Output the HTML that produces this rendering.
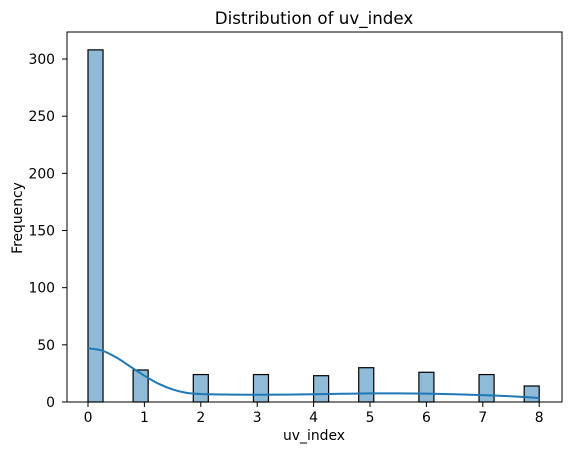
<!DOCTYPE html>
<html><head><meta charset="utf-8"><style>
body{margin:0;background:#fff;}
svg text{font-family:"DejaVu Sans","Liberation Sans",sans-serif;fill:#000;}
</style></head><body>
<svg id="chart" width="571" height="455">
<rect x="0" y="0" width="571" height="455" fill="#fff"/>
<g id="bars"></g>
<path id="kde" fill="none" stroke="#1f77b4" stroke-width="2" stroke-linejoin="round"/>
<rect x="67" y="32" width="495" height="370" fill="none" stroke="#000" stroke-width="1"/>
<g id="xticks"></g><g id="yticks"></g>
<text x="314" y="24" font-size="16.7" text-anchor="middle">Distribution of uv_index</text>
<text x="314" y="440" font-size="13.9" text-anchor="middle">uv_index</text>
<text x="22" y="218" font-size="13.9" text-anchor="middle" transform="rotate(-90 22 218)">Frequency</text>
</svg>
<script>
const binStarts=[0,0.8,1.8667,2.9333,4,4.8,5.8667,6.9333,7.7333];
const counts=[308,28,24,24,23,30,26,24,14];
const binWidth=8/30;
const kdeX=[0,0.25,0.5,0.75,1,1.25,1.5,1.75,2,2.5,3,3.5,4,4.5,5,5.5,6,6.5,7,7.5,8];
const kdeY=[47,45,39,31,23,16,11,8,7,6.5,6.3,6.5,6.8,7.2,7.5,7.5,7.3,6.8,6,5,3.5];
const xTicks=[0,1,2,3,4,5,6,7,8];
const yTicks=[0,50,100,150,200,250,300];
const NS="http://www.w3.org/2000/svg";
const sx=v=>88+v*56.4, sy=v=>402-v*1.1433;
const bars=document.getElementById('bars');
binStarts.forEach((b,i)=>{
 const r=document.createElementNS(NS,'rect');
 r.setAttribute('x',sx(b));r.setAttribute('width',binWidth*56.4);
 r.setAttribute('y',sy(counts[i]));r.setAttribute('height',sy(0)-sy(counts[i]));
 r.setAttribute('fill','rgba(31,119,180,0.5)');r.setAttribute('stroke','#000');r.setAttribute('stroke-width','1.2');
 
 
 bars.appendChild(r);
});
const pts=kdeX.map((x,i)=>[sx(x),sy(kdeY[i])]);
let d='M'+pts[0][0]+' '+pts[0][1];
for(let i=0;i<pts.length-1;i++){
 const p0=pts[Math.max(0,i-1)],p1=pts[i],p2=pts[i+1],p3=pts[Math.min(pts.length-1,i+2)];
 const c1=[p1[0]+(p2[0]-p0[0])/6,p1[1]+(p2[1]-p0[1])/6];
 const c2=[p2[0]-(p3[0]-p1[0])/6,p2[1]-(p3[1]-p1[1])/6];
 d+=' C'+c1[0]+' '+c1[1]+' '+c2[0]+' '+c2[1]+' '+p2[0]+' '+p2[1];
}
document.getElementById('kde').setAttribute('d',d);
const xt=document.getElementById('xticks');
xTicks.forEach(t=>{
 const l=document.createElementNS(NS,'line');
 l.setAttribute('x1',sx(t));l.setAttribute('x2',sx(t));l.setAttribute('y1',402);l.setAttribute('y2',407);l.setAttribute('stroke','#000');
 
 
 xt.appendChild(l);
 const s=document.createElementNS(NS,'text');
 s.setAttribute('x',sx(t));s.setAttribute('y',422);s.setAttribute('font-size','13.9');s.setAttribute('text-anchor','middle');s.textContent=t;
 
 
 xt.appendChild(s);
});
const yt=document.getElementById('yticks');
yTicks.forEach(t=>{
 const l=document.createElementNS(NS,'line');
 l.setAttribute('x1',62);l.setAttribute('x2',67);l.setAttribute('y1',sy(t));l.setAttribute('y2',sy(t));l.setAttribute('stroke','#000');
 
 
 yt.appendChild(l);
 const s=document.createElementNS(NS,'text');
 s.setAttribute('x',55);s.setAttribute('y',sy(t)+5);s.setAttribute('font-size','13.9');s.setAttribute('text-anchor','end');s.textContent=t;
 
 
 yt.appendChild(s);
});
</script>
</body></html>
